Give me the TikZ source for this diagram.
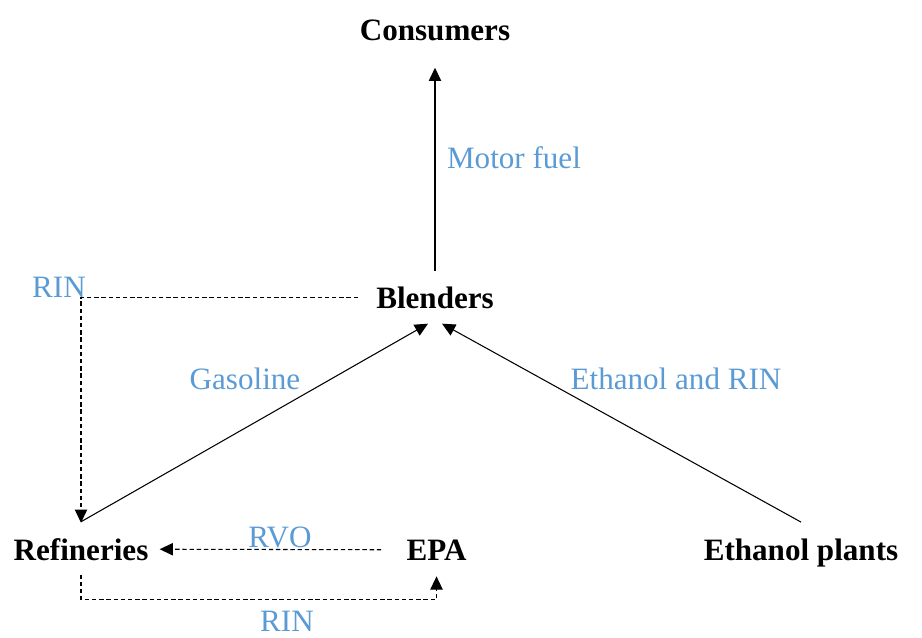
\documentclass[tikz,border=0pt]{standalone}
\usepackage{fontspec}
\setmainfont{Liberation Serif}
\usetikzlibrary{arrows.meta, calc}
\definecolor{labelblue}{RGB}{91, 155, 213}

\begin{document}
\begin{tikzpicture}[
    x=0.02cm, y=-0.02cm,
    actor/.style={
        font=\fontsize{17.7}{20}\selectfont\bfseries,
        inner sep=0pt, anchor=base
    },
    flowlabel/.style={
        font=\fontsize{17.7}{20}\selectfont, text=labelblue,
        inner sep=0pt, anchor=base
    },
    flow/.style={-{Triangle[length=7.5pt, width=7pt]}, line width=0.6pt},
    dashflow/.style={flow, dash pattern=on 2.5pt off 1.6pt}
]
\useasboundingbox (0,0) rectangle (922,637);

% ACTORS
\node[actor] (consumers) at (435,40) {Consumers};
\node[actor] (blenders) at (435,308) {Blenders};
\node[actor] (refineries) at (81,560) {Refineries};
\node[actor] (epa) at (436.5,560) {EPA};
\node[actor] (ethanol) at (801,560) {Ethanol plants};

% Physical flows
\draw[flow] ($(blenders.north)+(0,-15)$) -- ($(consumers.south)+(0,27)$);
\draw[flow] ($(refineries.north)+(0,-16)$) -- ($(blenders.south)+(-7,15)$);
\draw[flow] ($(ethanol.north)+(0,-16)$) -- ($(blenders.south)+(7,15)$);

% RIN and RVO flows (dashed)
\coordinate (rincorner) at (refineries.north |- blenders.west);
\draw[dashflow] ($(blenders.west)+(-18,0)$) -- (rincorner) -- ($(refineries.north)+(0,-15)$);
\draw[dashflow] ($(epa.west)+(-25,0)$) -- ($(refineries.east)+(11,0)$);
\draw[dashflow] ($(refineries.south)+(0,14)$) -- ++(0,25) -| ($(epa.south)+(0,16)$);

% Labels
\node[flowlabel] (motorlbl) at (514,168) {Motor fuel};
\node[flowlabel] (gaslbl) at (245,389) {Gasoline};
\node[flowlabel] (ethlbl) at (676,389) {Ethanol and RIN};
\node[flowlabel] (rintop) at (59,297) {RIN};
\node[flowlabel] (rvolbl) at (280,547) {RVO};
\node[flowlabel] (rinbot) at (287,631) {RIN};

\end{tikzpicture}
\end{document}
